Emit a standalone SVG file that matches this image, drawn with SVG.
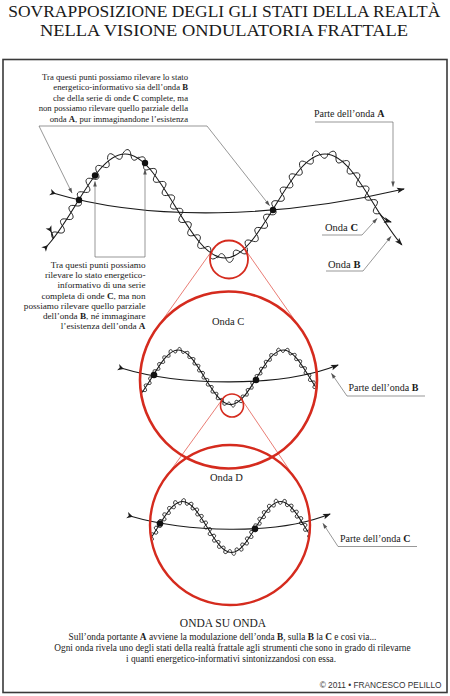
<svg xmlns="http://www.w3.org/2000/svg" xmlns:xlink="http://www.w3.org/1999/xlink" width="450" height="696" viewBox="0 0 450 696" font-family="'Liberation Serif', 'Times New Roman', serif">
<style>
.t{fill:#1a1a1a;font-family:'Liberation Serif','Times New Roman',serif}
.ann{font-size:8.7px;text-anchor:end}
.ann2{font-size:9.2px;text-anchor:end}
.lbl{font-size:10px}
.b{font-weight:bold}
.lead{fill:none;stroke:#6b6b6b;stroke-width:0.7}
.red{fill:none;stroke:#d52b1e}
.redl{fill:none;stroke:#e0453a;stroke-width:0.7}
.wave{fill:none;stroke:#1a1a1a;stroke-width:1.1}
.dot{fill:#111}
.ctr{text-anchor:middle}
</style>
<defs>
<marker id="ah" markerUnits="userSpaceOnUse" orient="auto" overflow="visible"><path d="M1,0 L-7,-2.8 L-5.3,0 L-7,2.8 Z" fill="#1a1a1a"/></marker>
<marker id="tl" markerUnits="userSpaceOnUse" orient="auto" overflow="visible"><path d="M3,0 L-3,-3.3 L-1.3,0 L-3,3.3 Z" fill="#1a1a1a"/></marker>
<marker id="gah" markerUnits="userSpaceOnUse" orient="auto" overflow="visible"><path d="M0.5,0 L-5,-1.8 L-5,1.8 Z" fill="#555"/></marker>
<marker id="wA" markerUnits="userSpaceOnUse" orient="auto" overflow="visible"><path d="M-8,0 C-6,-6 -2,-6 0,0 C2,6 6,6 8,0" fill="none" stroke="#1a1a1a" stroke-width="0.85"/></marker>
<marker id="wC" markerUnits="userSpaceOnUse" orient="auto" overflow="visible"><path d="M-8,0 C-6,-6.5 -2,-6.5 0,0 C2,6.5 6,6.5 8,0" fill="none" stroke="#1a1a1a" stroke-width="1.6"/></marker>
<marker id="wD" markerUnits="userSpaceOnUse" orient="auto" overflow="visible"><path d="M-8,0 C-8,-8 0,-8 0,0 C0,8 8,8 8,0" fill="none" stroke="#1a1a1a" stroke-width="1.7"/></marker>
<path id="bpath" d="M45.72,247.37 C55.69,237.51 65.21,221.98 75,206 C91.31,179.36 106.90,154 125,154 C143.10,154 158.69,179.36 175,206 C191.31,232.64 206.90,258 225,258 C243.10,258 258.69,232.64 275,206 C291.31,179.36 306.90,154 325,154 C343.10,154 358.69,179.36 375,206 C383.97,220.65 392.72,234.92 401.8,244.79"/>
<polyline id="bverts" fill="none" stroke="none" points="45.72,247.37 57.96,232.5 66.80,219.2 75.20,205.7 83.61,192.1 92.49,178.8 102.50,166.5 115.00,156.5 130.89,154.9 144.40,163.4 154.94,175.4 164.06,188.5 172.55,202.0 180.81,215.4 189.48,228.8 199.03,241.6 210.51,252.7 225.58,258.0 240.38,252.0 251.69,240.8 261.17,227.9 269.80,214.5 278.04,201.0 286.55,187.5 295.74,174.5 306.43,162.6 320.21,154.6 336.03,157.1 348.26,167.3 358.18,179.8 367.01,193.1 375.40,206.7 383.81,220.2 392.71,233.5 401.5,244.5"/>
<clipPath id="clipC"><circle cx="228.5" cy="380" r="87.5"/></clipPath>
<clipPath id="clipD"><circle cx="230" cy="525" r="79"/></clipPath>
</defs>

<rect id="frame" x="3" y="59.5" width="444" height="633" fill="none" stroke="#3a3a3a" stroke-width="1.6"/>

<g id="title" class="t">
<text x="8.3" y="17.3" font-size="16.6" textLength="432" lengthAdjust="spacingAndGlyphs">SOVRAPPOSIZIONE DEGLI GLI STATI DELLA REALTÀ</text>
<text x="40" y="35.7" font-size="16.6" textLength="368" lengthAdjust="spacingAndGlyphs">NELLA VISIONE ONDULATORIA FRATTALE</text>
</g>

<g id="zoom-lines">
<line class="redl" x1="213.48" y1="248.54" x2="156.2" y2="328.95"/>
<line class="redl" x1="244.52" y1="248.54" x2="300.8" y2="328.95"/>
<line class="redl" x1="222.58" y1="398.91" x2="164.45" y2="479.14"/>
<line class="redl" x1="241.42" y1="398.91" x2="295.55" y2="479.14"/>
</g>

<g id="main-waves">
<path class="wave" d="M53,193 C150,222 280,218 404,189" marker-start="url(#tl)" marker-end="url(#ah)"/>
<path class="wave" d="M45.72,247.37 C55.69,237.51 65.21,221.98 75,206 C91.31,179.36 106.90,154 125,154 C143.10,154 158.69,179.36 175,206 C191.31,232.64 206.90,258 225,258 C243.10,258 258.69,232.64 275,206 C291.31,179.36 306.90,154 325,154 C343.10,154 358.69,179.36 375,206 C383.97,220.65 392.72,234.92 401.8,244.79" marker-start="url(#tl)" marker-end="url(#ah)"/>
<polyline fill="none" stroke="none" marker-mid="url(#wA)" points="45.72,247.37 57.96,232.5 66.80,219.2 75.20,205.7 83.61,192.1 92.49,178.8 102.50,166.5 115.00,156.5 130.89,154.9 144.40,163.4 154.94,175.4 164.06,188.5 172.55,202.0 180.81,215.4 189.48,228.8 199.03,241.6 210.51,252.7 225.58,258.0 240.38,252.0 251.69,240.8 261.17,227.9 269.80,214.5 278.04,201.0 286.55,187.5 295.74,174.5 306.43,162.6 320.21,154.6 336.03,157.1 348.26,167.3 358.18,179.8 367.01,193.1 375.40,206.7 383.81,220.2"/>
<path class="wave" d="M50,229.5 C52,233 53,236 53.6,238.7" stroke-width="0.85" marker-start="url(#tl)"/>
<path class="wave" d="M379.6,213.5 C383,218 386,220.5 391,222" stroke-width="0.85" marker-end="url(#ah)"/>
<circle class="dot" cx="79" cy="200" r="3.2"/>
<circle class="dot" cx="273" cy="210" r="3.2"/>
<circle class="dot" cx="95" cy="175.5" r="3.2"/>
<circle class="dot" cx="145" cy="163" r="3.2"/>
<circle id="zoom-a" class="red" cx="229" cy="259.5" r="19" stroke-width="1.8"/>
</g>

<g id="circle-c">
<g clip-path="url(#clipC)">
<use xlink:href="#bpath" class="wave" transform="matrix(0.525 0 0 0.525 112.6 269.15)" style="stroke-width:2.1"/>
<use xlink:href="#bverts" transform="matrix(0.525 0 0 0.525 112.6 269.15)" style="marker-mid:url(#wC)"/>
</g>
<path class="wave" d="M121,368 C180,386 280,388 338,365" marker-start="url(#tl)" marker-end="url(#ah)"/>
<circle class="dot" cx="154" cy="375" r="3.3"/>
<circle class="dot" cx="256" cy="380" r="3.3"/>
<circle class="red" cx="228.5" cy="380" r="88.5" stroke-width="2.6"/>
<circle id="zoom-b" class="red" cx="232" cy="405.5" r="11.5" stroke-width="1.6"/>
<text class="t" x="212" y="325" font-size="10.5">Onda C</text>
</g>

<g id="circle-d">
<g clip-path="url(#clipD)">
<use xlink:href="#bpath" class="wave" transform="matrix(0.49 0 0 0.49 121.25 426.04)" style="stroke-width:2.2"/>
<use xlink:href="#bverts" transform="matrix(0.49 0 0 0.49 121.25 426.04)" style="marker-mid:url(#wD)"/>
</g>
<path class="wave" d="M130,516 C185,532 275,536 330,514" marker-start="url(#tl)" marker-end="url(#ah)"/>
<circle class="dot" cx="160" cy="523.5" r="3.3"/>
<circle class="dot" cx="255" cy="528.7" r="3.3"/>
<circle class="red" cx="230" cy="525" r="80" stroke-width="2.4"/>
<text class="t" x="210" y="481" font-size="10.5">Onda D</text>
</g>

<g id="connectors">
<path class="lead" d="M39,126 L72,193" marker-end="url(#gah)"/>
<path class="lead" d="M39,126 H207 L269.5,205.5" marker-end="url(#gah)"/>
<path class="lead" d="M95,257 V181.5" marker-end="url(#gah)"/>
<path class="lead" d="M95,257 H145 V169.5" marker-end="url(#gah)"/>
<path class="lead" d="M315,122 H393 V186.5" marker-end="url(#gah)"/>
<path class="lead" d="M322,235 H362 L377,218.5" marker-end="url(#gah)"/>
<path class="lead" d="M326,271 H363 L391,236.5" marker-end="url(#gah)"/>
<path class="lead" d="M425,396 H347 L331.5,373.5" marker-end="url(#gah)"/>
<path class="lead" d="M417,546.5 H338 L323,523.5" marker-end="url(#gah)"/>
</g>

<g id="note-top" class="t ann">
<text x="188" y="79.5">Tra questi punti possiamo rilevare lo stato</text>
<text x="188" y="90">energetico-informativo sia dell’onda <tspan class="b">B</tspan></text>
<text x="188" y="100.5">che della serie di onde <tspan class="b">C</tspan> complete, ma</text>
<text x="188" y="111">non possiamo rilevare quello parziale della</text>
<text x="188" y="121.5">onda <tspan class="b">A</tspan>, pur immaginandone l’esistenza</text>
</g>

<g id="note-mid" class="t ann2">
<text x="145.5" y="268">Tra questi punti possiamo</text>
<text x="145.5" y="278.2">rilevare lo stato energetico-</text>
<text x="145.5" y="288.4">informativo di una serie</text>
<text x="145.5" y="298.6">completa di onde <tspan class="b">C</tspan>, ma non</text>
<text x="145.5" y="308.8">possiamo rilevare quello parziale</text>
<text x="145.5" y="319">dell’onda <tspan class="b">B</tspan>, né immaginare</text>
<text x="145.5" y="329.2">l’esistenza dell’onda <tspan class="b">A</tspan></text>
</g>

<g id="labels" class="t lbl">
<text x="314" y="117">Parte dell’onda <tspan class="b">A</tspan></text>
<text x="325" y="231" font-size="10.5">Onda <tspan class="b">C</tspan></text>
<text x="328" y="268" font-size="10.5">Onda <tspan class="b">B</tspan></text>
<text x="348.5" y="391">Parte dell’onda <tspan class="b">B</tspan></text>
<text x="340" y="542">Parte dell’onda <tspan class="b">C</tspan></text>
</g>

<g id="caption" class="t ctr">
<text x="223" y="627" font-size="11.5">ONDA SU ONDA</text>
<text x="222.5" y="639.5" font-size="9.3">Sull’onda portante <tspan class="b">A</tspan> avviene la modulazione dell’onda <tspan class="b">B</tspan>, sulla <tspan class="b">B</tspan> la <tspan class="b">C</tspan> e così via...</text>
<text x="232.5" y="650.5" font-size="9.3">Ogni onda rivela uno degli stati della realtà frattale agli strumenti che sono in grado di rilevarne</text>
<text x="231" y="661.5" font-size="9.3">i quanti energetico-informativi sintonizzandosi con essa.</text>
</g>
<text id="copyright" x="441.5" y="688" font-family="'Liberation Sans', Arial, sans-serif" font-size="8.3" fill="#333" text-anchor="end">© 2011 • FRANCESCO PELILLO</text>
</svg>
